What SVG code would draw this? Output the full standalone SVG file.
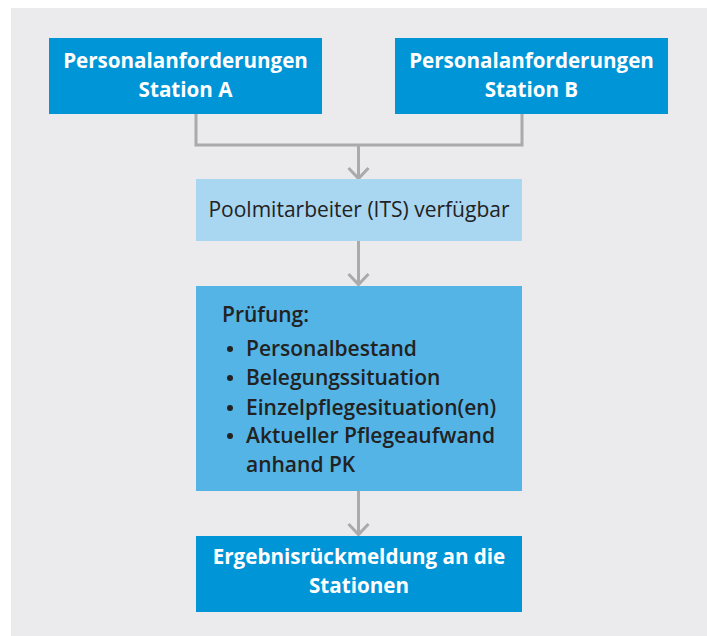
<svg xmlns="http://www.w3.org/2000/svg" width="707" height="636" viewBox="0 0 707 636">
<defs>
<style>
.dark{fill:#0095d7}
.light{fill:#a9d6f1}
.mid{fill:#54b4e6}
.wt{font-family:"Open Sans","Liberation Sans",sans-serif;font-weight:bold;font-size:20.6px;fill:#ffffff;text-anchor:middle}
.bt{font-family:"Open Sans","Liberation Sans",sans-serif;font-size:21px;fill:#222222}
.conn{fill:none;stroke:#aaaaaa;stroke-width:3}
</style>
</defs>
<rect x="0" y="0" width="707" height="636" fill="#ffffff"/>
<rect x="11" y="8" width="696" height="628" fill="#ebebee"/>
<g id="connectors" class="conn">
<polyline points="196,114 196,145 522,145 522,114"/>
<line x1="358.5" y1="145" x2="358.5" y2="179"/>
<polyline points="348.5,168 358.5,178.5 368.5,168"/>
<line x1="358.5" y1="241" x2="358.5" y2="285"/>
<polyline points="348.5,274 358.5,284.5 368.5,274"/>
<line x1="358.5" y1="491" x2="358.5" y2="535"/>
<polyline points="348.5,524 358.5,534.5 368.5,524"/>
</g>
<g id="nodeA">
<rect class="dark" x="49" y="38" width="273" height="76"/>
<text class="wt" x="185.5" y="68">Personalanforderungen</text>
<text class="wt" x="185.5" y="97">Station A</text>
</g>
<g id="nodeB">
<rect class="dark" x="395" y="38" width="273" height="76"/>
<text class="wt" x="531.5" y="68">Personalanforderungen</text>
<text class="wt" x="531.5" y="97">Station B</text>
</g>
<g id="pool">
<rect class="light" x="196" y="179" width="326" height="62"/>
<text class="bt" x="359" y="217" text-anchor="middle">Poolmitarbeiter (ITS) verfügbar</text>
</g>
<g id="pruefung">
<rect class="mid" x="196" y="286" width="326" height="205"/>
<text class="bt" x="222" y="322" font-weight="600">Prüfung:</text>
<g class="bt" font-weight="600">
<circle cx="230" cy="349" r="3" fill="#222222"/>
<circle cx="230" cy="378" r="3" fill="#222222"/>
<circle cx="230" cy="408" r="3" fill="#222222"/>
<circle cx="230" cy="436" r="3" fill="#222222"/>
<text x="246" y="356">Personalbestand</text>
<text x="246" y="385">Belegungssituation</text>
<text x="246" y="415">Einzelpflegesituation(en)</text>
<text x="246" y="443">Aktueller Pflegeaufwand</text>
<text x="246" y="472">anhand PK</text>
</g>
</g>
<g id="result">
<rect class="dark" x="196" y="536" width="326" height="76"/>
<text class="wt" x="359" y="564">Ergebnisrückmeldung an die</text>
<text class="wt" x="359" y="593">Stationen</text>
</g>
</svg>
